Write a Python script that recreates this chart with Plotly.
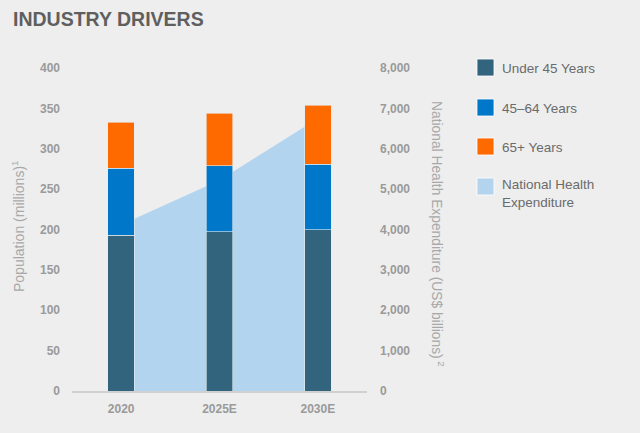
import plotly.graph_objects as go

years = ["2020", "2025E", "2030E"]
under45 = [193, 197, 200]
age45_64 = [83, 82, 81]
age65 = [57, 65, 73]
nhe = [4120, 5220, 6750]

pop_ticks = [0, 50, 100, 150, 200, 250, 300, 350, 400]
nhe_ticks = [0, 1000, 2000, 3000, 4000, 5000, 6000, 7000, 8000]

series_names = ["Under 45 Years", "45\u201364 Years", "65+ Years", "National Health<br>Expenditure"]
series_colors = ["#33647e", "#0077c8", "#ff6a00", "#b3d4ef"]

BG = "#eeeeee"
FONT = "Liberation Sans, Arial"
TICK = dict(family=FONT, size=12, color="#9a9a9a", weight="bold")

# plot area in pixels
L, R, T, B = 72, 367, 68, 391
PW, PH = R - L, B - T

def px(x):
    return (x - L) / PW

def py(y):
    return (B - y) / PH

fig = go.Figure()
fig.add_trace(go.Scatter(
    x=years, y=nhe, name=series_names[3], mode="none",
    fill="tozeroy", fillcolor=series_colors[3], yaxis="y", showlegend=False,
    hoverinfo="skip"))
for vals, name, col in zip([under45, age45_64, age65], series_names[:3], series_colors[:3]):
    fig.add_trace(go.Bar(x=years, y=vals, name=name,
                         marker=dict(color=col, line=dict(width=0.6, color="#e6ecf0")),
                         yaxis="y2", width=0.27, showlegend=False))

# custom legend (larger squares like the reference)
shapes = []
annotations = []
sq_tops = [59, 99, 138, 178]
text_y = [68, 108, 147, 193]
for name, col, st, ty in zip(series_names, series_colors, sq_tops, text_y):
    shapes.append(dict(type="rect", xref="paper", yref="paper",
                       x0=px(477), x1=px(494), y0=py(st + 17), y1=py(st),
                       fillcolor=col, line=dict(width=0.8, color="#ffffff")))
    annotations.append(dict(text=name, xref="paper", yref="paper", x=px(500), y=py(ty),
                            xanchor="left", yanchor="middle", align="left", showarrow=False,
                            font=dict(family=FONT, size=13.5, color="#6b6b6b")))

annotations += [
    dict(text="<b>INDUSTRY DRIVERS</b>", xref="paper", yref="paper",
         x=px(11), y=py(19), xanchor="left", yanchor="middle",
         showarrow=False, font=dict(family=FONT, size=19.5, color="#5f5f5f")),
    dict(text="Population (millions)<sup>1</sup>", xref="paper", yref="paper",
         x=px(18), y=py(226), textangle=-90, showarrow=False,
         xanchor="center", yanchor="middle",
         font=dict(family=FONT, size=14, color="#a8a8a8")),
    dict(text="National Health Expenditure (US$ billions)<sup> 2</sup>", xref="paper", yref="paper",
         x=px(438), y=py(234), textangle=90, showarrow=False,
         xanchor="center", yanchor="middle",
         font=dict(family=FONT, size=13.8, color="#a8a8a8")),
]

fig.update_layout(
    width=640, height=433,
    paper_bgcolor=BG, plot_bgcolor=BG,
    margin=dict(l=L, r=640 - R, t=T, b=433 - B, autoexpand=False),
    barmode="stack",
    showlegend=False,
    xaxis=dict(type="category", categoryorder="array", categoryarray=years,
               range=[-0.5, 2.5], showgrid=False, zeroline=False,
               showline=True, linecolor="#d0d0d0", linewidth=2,
               tickfont=TICK, ticks="", ticklabelstandoff=6),
    yaxis=dict(side="right", range=[0, 8000], tickvals=nhe_ticks,
               tickformat=",d", showgrid=False, zeroline=False, showline=False,
               tickfont=TICK, ticks="", ticklabelstandoff=12),
    yaxis2=dict(side="left", overlaying="y", range=[0, 400], tickvals=pop_ticks,
                showgrid=False, zeroline=False, showline=False,
                tickfont=TICK, ticks="", ticklabelstandoff=11),
    shapes=shapes,
    annotations=annotations,
)

fig.write_html(
    "out.html",
    config={"displayModeBar": False},
    post_script="document.body.style.margin='0px';document.body.style.background='#eeeeee';",
)
